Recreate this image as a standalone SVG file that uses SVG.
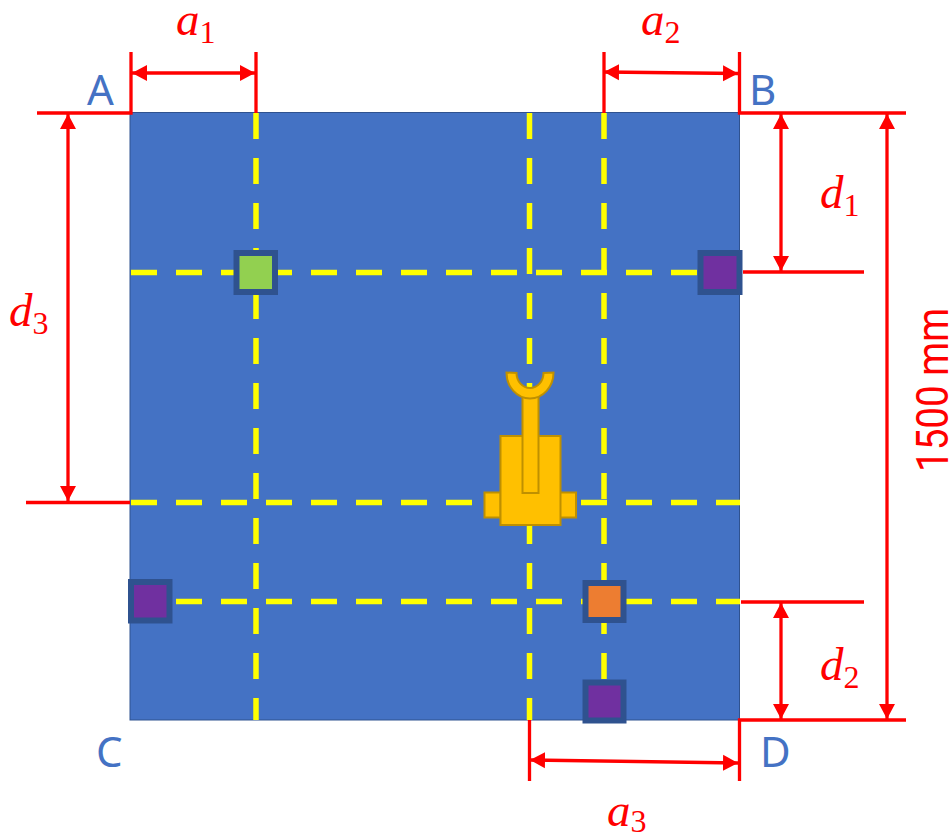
<svg xmlns="http://www.w3.org/2000/svg" width="950" height="834" viewBox="0 0 950 834">
<style>
.dash{stroke:#FFFF00;stroke-width:5.5;stroke-dasharray:26 19;fill:none}
.dim{stroke:#FF0000;stroke-width:3.3;fill:none}
.arr{marker-start:url(#ah);marker-end:url(#ah)}
.sq{stroke:#2F528F;stroke-width:6}
.rb{fill:#FFC000;stroke:#BF9000;stroke-width:2}
.lbl{font-family:"Noto Sans",sans-serif;font-size:42px;fill:#4472C4}
.m{font-family:"Liberation Serif",serif;font-style:italic;font-size:47px;fill:#FF0000}
.m tspan{font-style:normal;font-size:32px}
</style>
<defs>
<marker id="ah" markerUnits="userSpaceOnUse" markerWidth="16" markerHeight="18" refX="15" refY="9" orient="auto-start-reverse"><path d="M0,1L15,9L0,17Z" fill="#FF0000"/></marker>
</defs>
<rect width="950" height="834" fill="#FFFFFF"/>
<rect id="plate" x="130" y="112.5" width="609.5" height="607.5" fill="#4472C4" stroke="#2F528F" stroke-width="1"/>
<g id="connectors">
<path class="dash" d="M256,113V720"/>
<path class="dash" d="M529.5,113V720"/>
<path class="dash" d="M604,113V690"/>
<path class="dash" d="M131,272.500H710"/>
<path class="dash" d="M131,502.500H740"/>
<path class="dash" d="M131,601.500H740"/>
<path class="dim" d="M37,113H131V52M256,113V52M604,113V52M739.5,52V113H906M743,272H864M741,602H864M739.5,781V720H906M529.5,720V781M26,502.500H130"/>
<path class="dim arr" d="M132,73H255"/>
<path class="dim arr" d="M604,72L738,73.500"/>
<path class="dim arr" d="M781,114V271"/>
<path class="dim arr" d="M887,114V719"/>
<path class="dim arr" d="M781,603V719"/>
<path class="dim arr" d="M530,760L738,763"/>
<path class="dim arr" d="M68,114V501"/>
</g>
<g id="sensor-green"><rect class="sq" x="236.500" y="253" width="38.500" height="39" fill="#92D050"/></g>
<g id="sensor-b"><rect class="sq" x="700.500" y="253" width="39" height="39" fill="#7030A0"/></g>
<g id="sensor-c"><rect class="sq" x="131" y="582" width="38.500" height="38.500" fill="#7030A0"/></g>
<g id="sensor-orange"><rect class="sq" x="585.500" y="583" width="38" height="37" fill="#ED7D31"/></g>
<g id="sensor-bottom"><rect class="sq" x="585.500" y="682.500" width="38" height="38" fill="#7030A0"/></g>
<g id="robot">
<rect class="rb" x="484.500" y="492.500" width="16" height="25"/>
<rect class="rb" x="560" y="492.500" width="16" height="25"/>
<rect class="rb" x="500.500" y="436" width="60" height="89"/>
<rect class="rb" x="522.500" y="397" width="16" height="96"/>
<path class="rb" d="M506.500,372.500A23.500,26 0 0 0 553.500,372.500L543.500,373A13.500,15 0 0 1 516.500,373Z"/>
</g>
<g id="labels">
<text class="lbl" x="87" y="105">A</text>
<text class="lbl" x="749" y="105">B</text>
<text class="lbl" x="96" y="767">C</text>
<text class="lbl" x="760" y="767">D</text>
<text class="m" x="176" y="35">a<tspan dy="8">1</tspan></text>
<text class="m" x="641" y="35">a<tspan dy="8">2</tspan></text>
<text class="m" x="820" y="208">d<tspan dy="8">1</tspan></text>
<text class="m" x="820" y="680">d<tspan dy="8">2</tspan></text>
<text class="m" x="9" y="326">d<tspan dy="8">3</tspan></text>
<text class="m" x="607" y="826">a<tspan dy="6">3</tspan></text>
<text x="0" y="0" transform="translate(948,472) rotate(-90)" font-family="Roboto,sans-serif" font-size="44" fill="#FF0000" textLength="164" lengthAdjust="spacingAndGlyphs">1500 mm</text>
</g>
</svg>
